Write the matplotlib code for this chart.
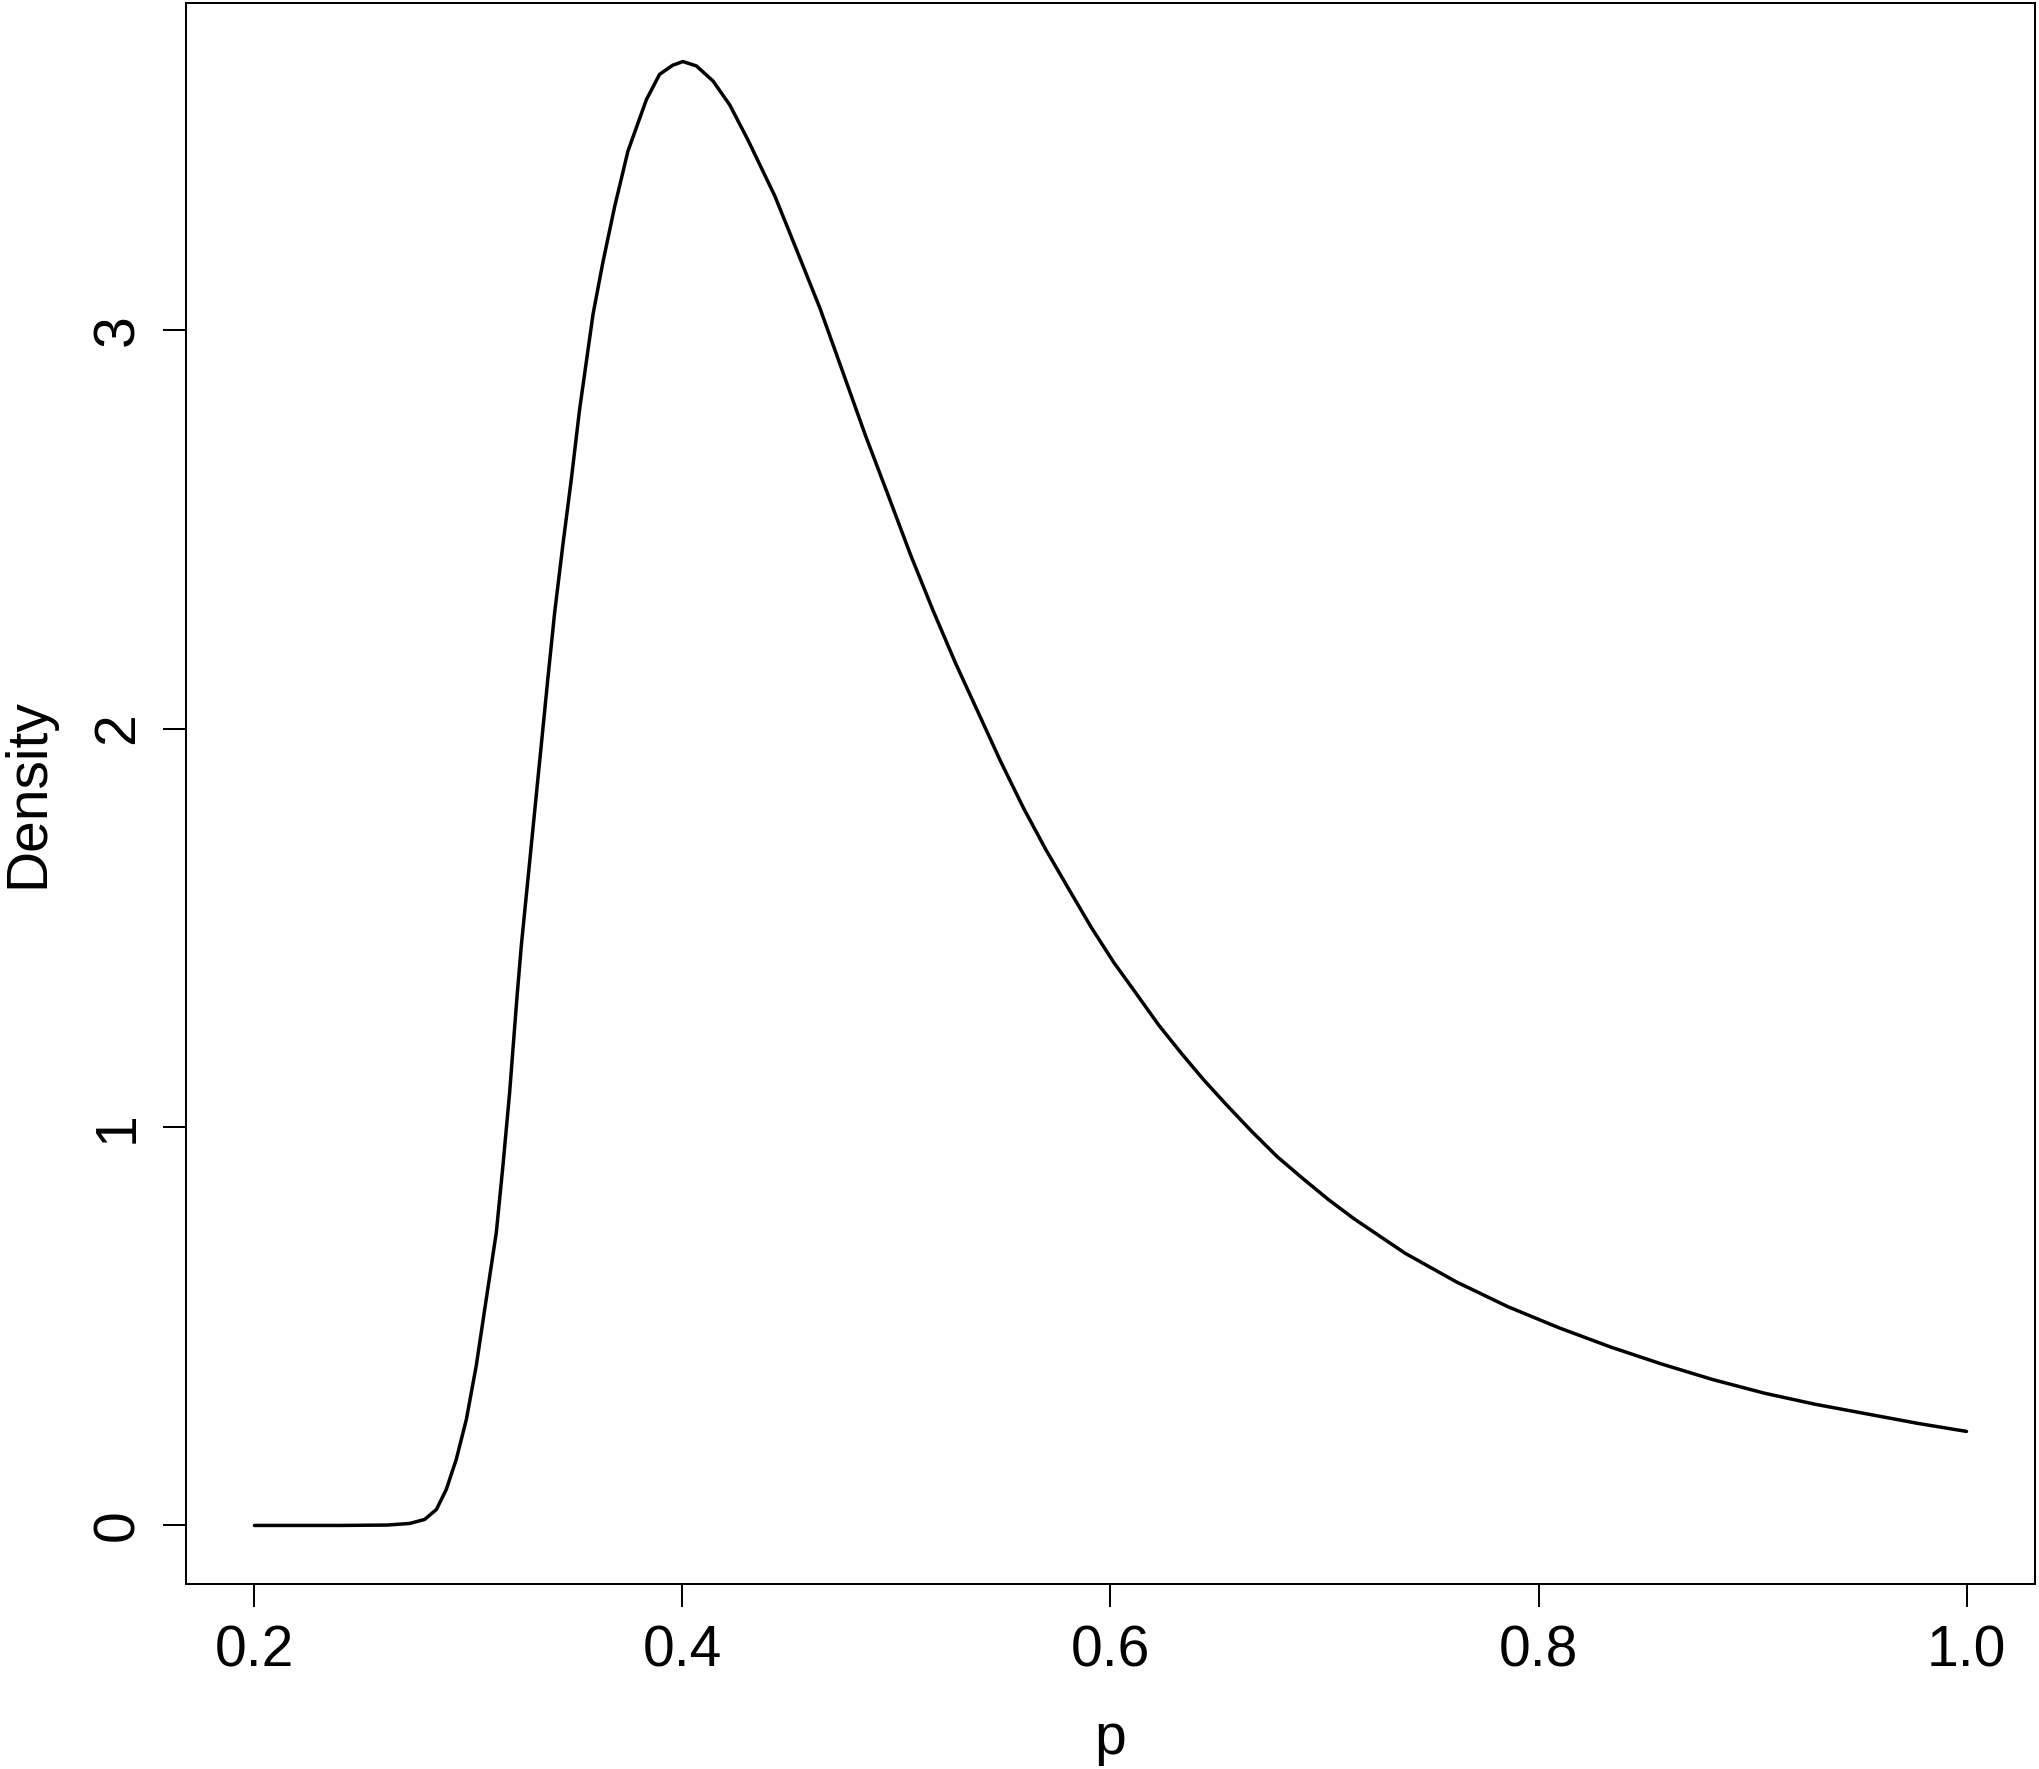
import matplotlib
matplotlib.use("Agg")
import matplotlib.pyplot as plt

# density curve, values
p = [0.200, 0.240, 0.262, 0.2725, 0.2795, 0.2850, 0.2896, 0.2943, 0.2990,
     0.3036, 0.3083, 0.3130, 0.3161, 0.3192, 0.3226, 0.3247, 0.3278, 0.3309,
     0.3340, 0.3371, 0.3403, 0.3441, 0.3481, 0.3519, 0.3582, 0.3628, 0.3683,
     0.3745, 0.3831, 0.3893, 0.3955, 0.4002, 0.4065, 0.4143, 0.4221, 0.4306,
     0.4432, 0.4538, 0.4643, 0.4749, 0.4854, 0.4960, 0.5065, 0.5171, 0.5276,
     0.5382, 0.5487, 0.5592, 0.5698, 0.5803, 0.5909, 0.6014, 0.6120, 0.6225,
     0.6331, 0.6436, 0.6538, 0.6658, 0.6778, 0.6898, 0.7018, 0.7137, 0.7377,
     0.7617, 0.7857, 0.8096, 0.8336, 0.8576, 0.8815, 0.9055, 0.9294, 0.9534,
     0.9774, 1.000]
density = [0.000, 0.000, 0.001, 0.005, 0.015, 0.040, 0.090, 0.166, 0.266,
           0.400, 0.568, 0.735, 0.903, 1.085, 1.322, 1.456, 1.623, 1.791,
           1.958, 2.126, 2.293, 2.461, 2.628, 2.800, 3.040, 3.170, 3.310,
           3.449, 3.578, 3.642, 3.665, 3.674, 3.663, 3.625, 3.565, 3.477,
           3.336, 3.195, 3.054, 2.895, 2.737, 2.587, 2.437, 2.296, 2.164,
           2.040, 1.917, 1.802, 1.696, 1.599, 1.502, 1.414, 1.335, 1.256,
           1.185, 1.118, 1.058, 0.990, 0.926, 0.871, 0.818, 0.770, 0.683,
           0.611, 0.549, 0.496, 0.448, 0.405, 0.366, 0.332, 0.304, 0.280,
           0.256, 0.236]

x_ticks = [0.2, 0.4, 0.6, 0.8, 1.0]
x_tick_labels = ["0.2", "0.4", "0.6", "0.8", "1.0"]
y_ticks = [0, 1, 2, 3]
y_tick_labels = ["0", "1", "2", "3"]

plt.rcParams["font.family"] = ["Liberation Sans", "DejaVu Sans"]

fig = plt.figure(figsize=(20.40, 17.69), dpi=100)
ax = fig.add_axes([186 / 2040, 1 - 1584 / 1769, (2035 - 186) / 2040, (1584 - 3) / 1769])

ax.plot(p, density, color="black", linewidth=2.5,
        solid_capstyle="round", solid_joinstyle="round")

# R-style 4% padding around the data range
xr = max(p) - min(p)
yr = max(density) - min(density)
ax.set_xlim(min(p) - 0.04 * xr, max(p) + 0.04 * xr)
ax.set_ylim(min(density) - 0.04 * yr, max(density) + 0.04 * yr)

ax.set_xticks(x_ticks)
ax.set_xticklabels(x_tick_labels)
ax.set_yticks(y_ticks)
ax.set_yticklabels(y_tick_labels, rotation=90, va="center")

ax.tick_params(axis="both", direction="out", length=16.5, width=1.45,
               labelsize=41, pad=13)
for s in ax.spines.values():
    s.set_linewidth(1.45)

ax.set_xlabel("p", fontsize=41, labelpad=24)
ax.set_ylabel("Density", fontsize=41, labelpad=26)

fig.savefig("out.png", dpi=100, facecolor="white")
